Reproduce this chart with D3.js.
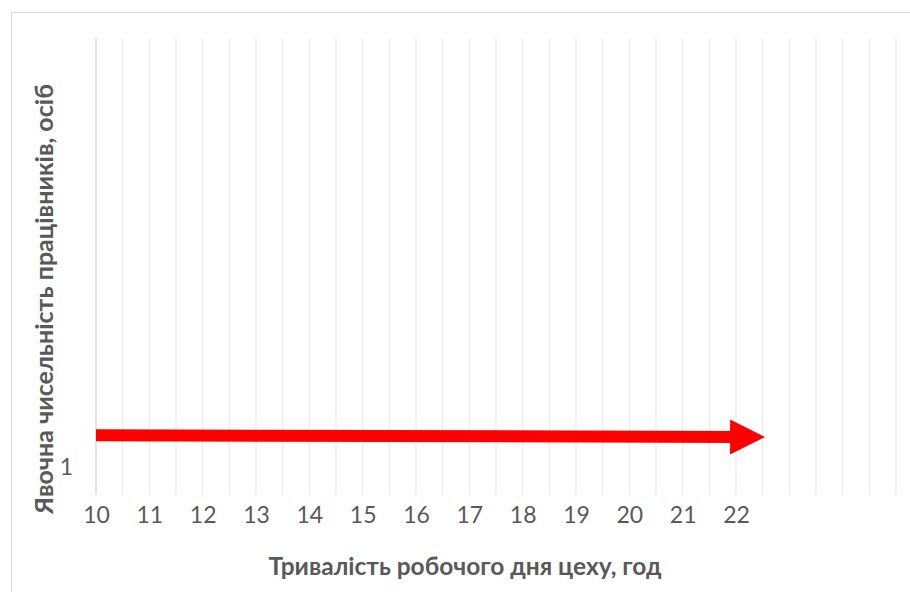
<!DOCTYPE html>
<html>
<head>
<meta charset="utf-8">
<script src="https://cdn.jsdelivr.net/npm/d3@7"></script>
<style>
    body { margin: 0; background: #fff; }
    text { font-family: Lato, "Noto Sans", sans-serif; fill: #595959; }
</style>
</head>
<body>
<svg id="chart" width="910" height="592"></svg>
<script>
// x categories shown on the axis, hours
let xLabels = [10, 11, 12, 13, 14, 15, 16, 17, 18, 19, 20, 21, 22];
let yLabels = [1];
// arrow series: start and tip of the red arrow
let arrowX = [10, 22.56];
let arrowY = [2.13, 2.07];

let xTitle = "Тривалість робочого дня цеху, год";
let yTitle = "Явочна чисельність працівників, осіб";

let svg = d3.select("#chart");
let plotLeft = 96, plotRight = 896, plotTop = 38, plotBottom = 495;
let headLen = 36;

let xScale = d3.scaleLinear().domain([10, 25]).range([plotLeft, plotRight]);
let yScale = d3.scaleLinear().domain([0, 16.3]).range([plotBottom, plotTop]);

// chart frame
svg.append("rect")
    .attr("x", 11.5).attr("y", 12.5)
    .attr("width", 910).attr("height", 600)
    .attr("fill", "none")
    .attr("stroke", "#d9d9d9");

// vertical gridlines every half hour
let gridVals = d3.range(10, 25.01, 0.5);
svg.append("g")
    .selectAll("line")
    .data(gridVals)
    .enter()
    .append("line")
    .attr("x1", d => xScale(d)).attr("x2", d => xScale(d))
    .attr("y1", plotTop).attr("y2", plotBottom)
    .attr("stroke", (d, i) => i === 0 ? "#d4d4d4" : "#ececec")
    .attr("stroke-width", 1.3);

let xAxis = d3.axisBottom(xScale).tickValues(xLabels).tickSize(0).tickPadding(12);
let gx = svg.append("g")
    .attr("transform", "translate(0," + plotBottom + ")")
    .call(xAxis);
gx.select(".domain").remove();
gx.selectAll("text").style("font-size", "23px").attr("fill", "#595959");

let yAxis = d3.axisLeft(yScale).tickValues(yLabels).tickSize(0).tickPadding(23);
let gy = svg.append("g")
    .attr("transform", "translate(" + plotLeft + ",0)")
    .call(yAxis);
gy.select(".domain").remove();
gy.selectAll("text").style("font-size", "23px").attr("fill", "#595959");

// arrow
let defs = svg.append("defs");
defs.append("marker")
    .attr("id", "head")
    .attr("viewBox", "0 0 10 10")
    .attr("refX", 2).attr("refY", 5)
    .attr("markerUnits", "userSpaceOnUse")
    .attr("markerWidth", headLen).attr("markerHeight", 35)
    .attr("orient", "auto")
    .append("path")
    .attr("d", "M0,0 L10,5 L0,10 Z")
    .attr("fill", "#ff0000");

let pts = arrowX.map((x, i) => [xScale(x), yScale(arrowY[i])]);
// shorten the shaft so the marker tip lands on the last point
pts[1][0] -= headLen * 0.8;
svg.append("path")
    .datum(pts)
    .attr("d", d3.line())
    .attr("fill", "none")
    .attr("stroke", "#ff0000")
    .attr("stroke-width", 12)
    .attr("marker-end", "url(#head)");

// titles
svg.append("text")
    .attr("x", 465).attr("y", 575)
    .attr("text-anchor", "middle")
    .style("font-size", "24.5px")
    .style("font-weight", "bold")
    .text(xTitle);

svg.append("text")
    .attr("transform", "translate(53,299) rotate(-90)")
    .attr("text-anchor", "middle")
    .style("font-size", "25px")
    .style("font-weight", "bold")
    .text(yTitle);
</script>
</body>
</html>
